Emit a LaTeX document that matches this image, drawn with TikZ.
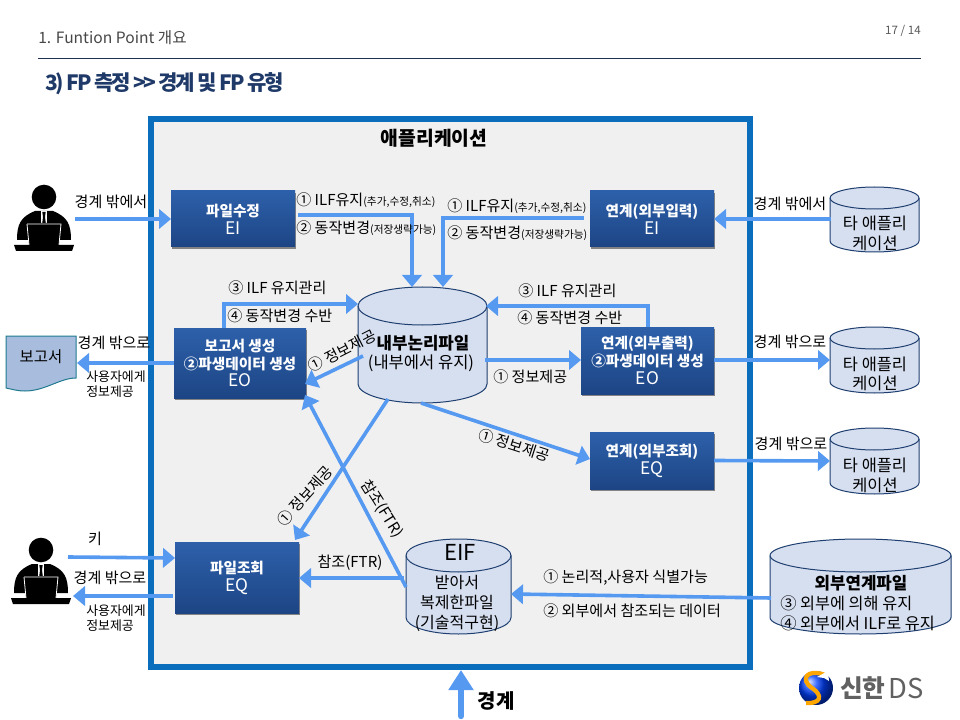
\documentclass[tikz,border=0pt]{standalone}
\usepackage{fontspec}
\setmainfont{Noto Sans CJK KR}
\newfontfamily\titlefont[LetterSpace=-11]{Noto Sans CJK KR}
\usetikzlibrary{arrows.meta,shadows,calc}
\definecolor{framec}{HTML}{0A6EBD}
\definecolor{panelc}{HTML}{F0F0F1}
\definecolor{flowc}{HTML}{5599F0}
\definecolor{boxtop}{HTML}{2D60AA}
\definecolor{boxbot}{HTML}{1D4585}
\definecolor{cylfill}{HTML}{D6DFF0}
\definecolor{cylline}{HTML}{1F3F70}
\definecolor{navy}{HTML}{1F2F4F}
\definecolor{titlec}{HTML}{1F3A68}
\definecolor{docfill}{HTML}{A8BDDD}
\definecolor{docline}{HTML}{1F7A8F}
\tikzset{
  flow/.style={draw=flowc,line width=2.7pt,-{Triangle[length=9pt,width=14.5pt]},line join=miter},
  fpbox/.style={top color=boxtop,bottom color=boxbot,text=white,align=center,inner sep=0pt,outer sep=0pt,
    drop shadow={shadow xshift=.8pt,shadow yshift=-1.6pt,opacity=.45,fill=black},
    font=\fontsize{11}{13.4}\selectfont\bfseries},
  lab/.style={font=\fontsize{11.3}{13}\selectfont,inner sep=0pt,text=black},
  smalllab/.style={font=\fontsize{9.7}{12}\selectfont,inner sep=0pt,text=black,align=left},
  cyltext/.style={font=\fontsize{12.3}{14.6}\selectfont,inner sep=0pt,text=black,align=center},
  ghost/.style={inner sep=0pt,outer sep=0pt},
  person/.pic={
    \fill[black] (0,0) circle (12.3);
    \fill[black] (-27,43) .. controls (-27,28) and (-24,20) .. (-9,14) -- (9,14) .. controls (24,20) and (27,28) .. (27,43) -- cycle;
    \fill[white] (-3,14) -- (3,14) -- (3,28) -- (-3,28) -- cycle;
    \fill[black] (-1.7,15) -- (1.7,15) -- (1,20) -- (2,28) -- (-2,28) -- (-1,20) -- cycle;
    \fill[black] (-18,26) -- (18,26) -- (15,48) -- (-15,48) -- cycle;
    \draw[white,line width=.6pt] (-17,27) -- (17,27) -- (15,48);
    \draw[white,line width=.6pt] (-17,27) -- (-15,48);
    \fill[black] (-30,48) -- (30,48) -- (28,54) -- (-28,54) -- cycle;
  }
}
% name, x1, y1, x2, y2, ry
\newcommand\fpcyl[6]{%
  \pgfmathsetmacro\cylcx{(#2+#4)/2}\pgfmathsetmacro\cylcy{(#3+#5)/2}%
  \pgfmathsetmacro\cylrx{(#4-#2)/2}\pgfmathsetmacro\cylw{(#4-#2)*.75}\pgfmathsetmacro\cylh{(#5-#3)*.75}%
  \pgfmathsetmacro\cylkx{\cylrx*.5523}\pgfmathsetmacro\cylky{#6*.5523}%
  \pgfmathsetmacro\cyltop{#3+#6}\pgfmathsetmacro\cylbot{#5-#6}%
  \draw[cylline,fill=cylfill,line width=.75pt]
    (#2,\cyltop) -- (#2,\cylbot)
    .. controls (#2,\cylbot+\cylky) and (\cylcx-\cylkx,#5) .. (\cylcx,#5)
    .. controls (\cylcx+\cylkx,#5) and (#4,\cylbot+\cylky) .. (#4,\cylbot)
    -- (#4,\cyltop)
    .. controls (#4,\cyltop-\cylky) and (\cylcx+\cylkx,#3) .. (\cylcx,#3)
    .. controls (\cylcx-\cylkx,#3) and (#2,\cyltop-\cylky) .. (#2,\cyltop) -- cycle;
  \draw[cylline,line width=.75pt] (#2,\cyltop)
    .. controls (#2,\cyltop+\cylky) and (\cylcx-\cylkx,\cyltop+#6) .. (\cylcx,\cyltop+#6)
    .. controls (\cylcx+\cylkx,\cyltop+#6) and (#4,\cyltop+\cylky) .. (#4,\cyltop);
  \node[ghost,minimum width=\cylw pt,minimum height=\cylh pt] (#1) at (\cylcx,\cylcy) {};%
}
\begin{document}
\begin{tikzpicture}[x=.75pt,y=-.75pt]
\useasboundingbox (0,0) rectangle (960,720);
\fill[white] (0,0) rectangle (960,720);
% header
\coordinate (ruleL) at (38,58.5);
\coordinate (ruleR) at (921,58.5);
\draw[navy,line width=.8pt] (ruleL) -- (ruleR);
\node[anchor=west,inner sep=0pt,text=black!72,font=\fontsize{11.7}{13}\selectfont] (hdr) at (38,38) {1. Funtion Point 개요};
\node[anchor=east,inner sep=0pt,text=black!65,font=\fontsize{8.7}{10}\selectfont] (pageno) at (921,31) {17 / 14};
\node[anchor=west,inner sep=0pt,text=titlec,font=\fontsize{15.8}{18}\titlefont\bfseries] (title) at (45,84) {3) FP 측정 >> 경계 및 FP 유형};
% frame
\draw[framec,fill=panelc,line width=4.5pt,line join=miter] (151,119) rectangle (750,667);
\node[inner sep=0pt,font=\fontsize{14.5}{16}\selectfont\bfseries] (apptitle) at (434,138) {애플리케이션};
% boxes
\newcommand\boxtag[1]{{\fontsize{13}{13.4}\selectfont\mdseries #1}}
\node[fpbox,minimum width=93pt,minimum height=42pt] (b1) at (233,219) {파일수정\\\boxtag{EI}};
\node[fpbox,minimum width=93pt,minimum height=42pt] (b2) at (652,219) {연계(외부입력)\\\boxtag{EI}};
\node[fpbox,minimum width=99pt,minimum height=52.5pt] (b3) at (240,363) {보고서 생성\\②파생데이터 생성\\\boxtag{EO}};
\node[fpbox,minimum width=99.75pt,minimum height=50.25pt] (b4) at (647.5,360.5) {연계(외부출력)\\②파생데이터 생성\\\boxtag{EO}};
\node[fpbox,minimum width=93pt,minimum height=42.75pt] (b5) at (652,460.5) {연계(외부조회)\\\boxtag{EQ}};
\node[fpbox,minimum width=93pt,minimum height=53.25pt] (b6) at (237,577.5) {파일조회\\\boxtag{EQ}};
% cylinders
\fpcyl{ilf}{358}{287}{487}{403}{19}
\fpcyl{oa1}{830}{187}{919}{252}{11}
\fpcyl{oa2}{830}{327}{919}{393}{11}
\fpcyl{oa3}{830}{428}{919}{494}{11}
\fpcyl{eif}{406}{539}{511}{634}{16.5}
\fpcyl{elf}{770}{539}{951}{634}{16.5}
% report document
\draw[docline,fill=docfill,line width=.75pt] (6,336) -- (76,336) -- (76,378)
  .. controls (60,378) and (45,391) .. (25,391) .. controls (17,391) and (11,389) .. (6,388) -- cycle;
\node[ghost,minimum width=53.25pt,minimum height=40.5pt] (doc) at (41.5,363) {};
\node[inner sep=0pt,font=\fontsize{11.6}{13}\selectfont] (doct) at (41,357) {보고서};
% persons
\pic (p1) at (44,197) {person};
\pic (p2) at (41,550) {person};
% connector free ends
\coordinate (p1out) at (75,219);
\coordinate (b1r) at (298,215);
\coordinate (b1c) at (412,215);
\coordinate (ilfa) at (412,287);
\coordinate (b2l) at (584,218);
\coordinate (b2c) at (443,218);
\coordinate (ilfb) at (443,287);
\coordinate (oa1l) at (831,219);
\coordinate (b3t) at (224,328);
\coordinate (b3c) at (224,304);
\coordinate (ilfc) at (358,304);
\coordinate (b4t) at (648,327);
\coordinate (b4c) at (648,306);
\coordinate (ilfd) at (486,306);
\coordinate (ilfe) at (485,360);
\coordinate (b4l) at (581,360);
\coordinate (b4r) at (714,360);
\coordinate (oa2l) at (830,360);
\coordinate (ilff) at (363,356);
\coordinate (b3a) at (305,384);
\coordinate (ilfg) at (388,399);
\coordinate (b6a) at (295,540);
\coordinate (ilfh) at (421,403);
\coordinate (b5a) at (590,459);
\coordinate (eifa) at (406,587);
\coordinate (b3b) at (305,395);
\coordinate (eifb) at (404,578);
\coordinate (b6b) at (299,578);
\coordinate (elfa) at (771,598);
\coordinate (eifc) at (511,594);
\coordinate (p2out) at (68,557);
\coordinate (b6c) at (175,558);
\coordinate (b6d) at (173,596);
\coordinate (p2in) at (73,596);
\coordinate (bound) at (461,716);
\coordinate (frameb) at (461,670);
% connectors
\draw[flow] (p1out) -- (b1.west);
\draw[flow] (b1r) -- (b1c) -- (ilfa);
\draw[flow] (b2l) -- (b2c) -- (ilfb);
\draw[flow] (oa1l) -- (b2.east);
\draw[flow] (b3t) -- (b3c) -- (ilfc);
\draw[flow] (b4t) -- (b4c) -- (ilfd);
\draw[flow] (ilfe) -- (b4l);
\draw[flow] (b4r) -- (oa2l);
\draw[flow] (ilff) -- (b3a);
\draw[flow] (ilfg) -- (b6a);
\draw[flow] (ilfh) -- (b5a);
\draw[flow] (b5.east) -- (oa3.west);
\draw[flow] (eifa) -- (b3b);
\draw[flow] (eifb) -- (b6b);
\draw[flow] (elfa) -- (eifc);
\draw[flow] (p2out) -- (b6c);
\draw[flow] (b6d) -- (p2in);
\draw[flow] (b3.west) -- (doc.east);
\draw[draw=flowc,line width=4.8pt,line cap=round,-{Triangle[length=15pt,width=18pt]}] (bound) -- (frameb);
% labels
\newcommand\smp[1]{{\fontsize{8}{9}\selectfont #1}}
\node[lab] (l1) at (111,202) {경계 밖에서};
\node[lab,anchor=west] (l2) at (296,200) {① ILF유지\smp{(추가,수정,취소)}};
\node[lab,anchor=west] (l3) at (296,228) {② 동작변경\smp{(저장생략가능)}};
\node[lab,anchor=west] (l4) at (447,206) {① ILF유지\smp{(추가,수정,취소)}};
\node[lab,anchor=west] (l5) at (447,233) {② 동작변경\smp{(저장생략가능)}};
\node[lab] (l6) at (790,204) {경계 밖에서};
\node[lab,anchor=west] (l7) at (228,288) {③ ILF 유지관리};
\node[lab,anchor=west] (l8) at (227,316) {④ 동작변경 수반};
\node[lab,anchor=west] (l9) at (518,291) {③ ILF 유지관리};
\node[lab,anchor=west] (l10) at (517,318) {④ 동작변경 수반};
\node[lab] (l11) at (790,342) {경계 밖으로};
\node[lab] (l12) at (791,444) {경계 밖으로};
\node[lab] (l13) at (114,343) {경계 밖으로};
\node[smalllab,anchor=center] (l14) at (116,384) {사용자에게\\[-1pt]정보제공};
\node[lab] (l15) at (95,539) {키};
\node[lab] (l16) at (110,578) {경계 밖으로};
\node[smalllab,anchor=center] (l17) at (116,618) {사용자에게\\[-1pt]정보제공};
\node[lab,rotate=27] (l18) at (342,351) {① 정보제공};
\node[lab,anchor=west] (l19) at (493,377) {① 정보제공};
\node[lab,rotate=-18] (l20) at (514,445) {① 정보제공};
\node[lab,rotate=48] (l21) at (305,496) {① 정보제공};
\node[lab,rotate=-58] (l22) at (382,509) {참조(FTR)};
\node[lab] (l23) at (350,563) {참조(FTR)};
\node[lab,anchor=west] (l24) at (543,578) {① 논리적,사용자 식별가능};
\node[lab,anchor=west] (l25) at (543,611) {② 외부에서 참조되는 데이터};
\node[inner sep=0pt,font=\fontsize{15}{16}\selectfont\bfseries] (bdy) at (496,701) {경계};
% cylinder texts
\node[inner sep=0pt,font=\fontsize{12.6}{14}\selectfont\bfseries] (t1) at (423,343) {내부논리파일};
\node[inner sep=0pt,font=\fontsize{12.4}{14}\selectfont] (t2) at (421,363) {(내부에서 유지)};
\node[cyltext] (t3) at (875,233.5) {타 애플리\\케이션};
\node[cyltext] (t4) at (875,374) {타 애플리\\케이션};
\node[cyltext] (t5) at (875,475.5) {타 애플리\\케이션};
\node[inner sep=0pt,font=\fontsize{16.5}{18}\selectfont] (t6) at (460,552) {EIF};
\node[cyltext,font=\fontsize{12}{15}\selectfont] (t7) at (457,603) {받아서\\복제한파일\\(기술적구현)};
\node[inner sep=0pt,font=\fontsize{12.6}{14}\selectfont\bfseries] (t8) at (861,583) {외부연계파일};
\node[inner sep=0pt,anchor=west,font=\fontsize{12.2}{14}\selectfont] (t9) at (780,603) {③ 외부에 의해 유지};
\node[inner sep=0pt,anchor=west,font=\fontsize{12.2}{14}\selectfont] (t10) at (780,623) {④ 외부에서 ILF로 유지};
% logo
\shade[ball color=blue!75!cyan] (816,688) circle (17);
\draw[draw=orange!70!yellow,line width=3.2pt] (825,675) .. controls (806,668) and (800,680) .. (812,688) .. controls (824,696) and (820,704) .. (806,703);
\fill[white] (817,677) -- (828,671) -- (829,681) -- (824,678) -- cycle;
\node[anchor=west,inner sep=0pt,text=black!62,font=\fontsize{18.5}{20}\selectfont\bfseries] (lg1) at (840,688) {신한};
\node[anchor=west,inner sep=0pt,text=black!62,font=\fontsize{20.5}{22}\selectfont] (lg2) at (888,688) {DS};
\end{tikzpicture}
\end{document}
